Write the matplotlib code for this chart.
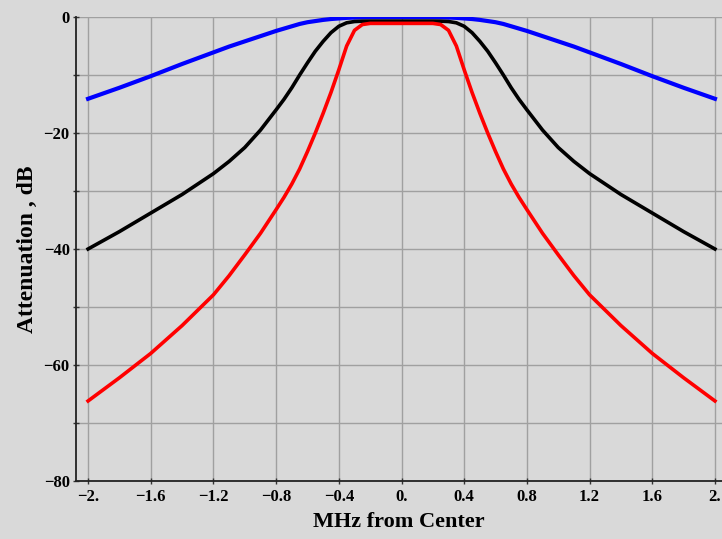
import matplotlib.pyplot as plt

# offsets from center, MHz (left half; right half mirrors it)
half_x = [-2.0, -1.8, -1.6, -1.4, -1.2, -1.1, -1.0, -0.9, -0.8, -0.75, -0.7, -0.65,
          -0.6, -0.55, -0.5, -0.45, -0.4, -0.35, -0.3, -0.25, -0.2, -0.1, 0.0]

# attenuation in dB
blue_half = [-14.1, -12.2, -10.2, -8.1, -6.1, -5.1, -4.2, -3.3, -2.4, -2.0, -1.6, -1.2,
             -0.9, -0.7, -0.5, -0.35, -0.25, -0.15, -0.1, -0.05, 0.0, 0.0, 0.0]
black_half = [-40.0, -37.0, -33.8, -30.6, -27.0, -24.9, -22.5, -19.5, -16.0, -14.2, -12.2, -10.0,
              -7.9, -5.9, -4.2, -2.7, -1.6, -1.0, -0.78, -0.72, -0.7, -0.7, -0.7]
red_half = [-66.2, -62.2, -58.0, -53.2, -47.9, -44.6, -41.0, -37.3, -33.2, -31.1, -28.8, -26.2,
            -23.2, -20.0, -16.6, -13.0, -9.1, -5.0, -2.3, -1.3, -1.1, -1.1, -1.1]

freq = half_x + [-v for v in half_x[-2::-1]]
blue = blue_half + blue_half[-2::-1]
black = black_half + black_half[-2::-1]
red = red_half + red_half[-2::-1]

xticks = [-2.0, -1.6, -1.2, -0.8, -0.4, 0.0, 0.4, 0.8, 1.2, 1.6, 2.0]
xticklabels = ['\u22122.', '\u22121.6', '\u22121.2', '\u22120.8', '\u22120.4', '0.',
               '0.4', '0.8', '1.2', '1.6', '2.']
yticks = [-80, -60, -40, -20, 0]
yticklabels = ['\u221280', '\u221260', '\u221240', '\u221220', '0']

plt.rcParams['font.family'] = ['Liberation Serif', 'DejaVu Serif']

bg = '#d9d9d9'
fig = plt.figure(figsize=(7.22, 5.39), dpi=100, facecolor=bg)
ax = fig.add_axes([76 / 722, 1 - 481 / 539, 646 / 722, 464 / 539])
ax.set_facecolor(bg)

ax.plot(freq, blue, color='#0000ff', lw=3.0, solid_joinstyle='round', zorder=3)
ax.plot(freq, black, color='black', lw=2.6, solid_joinstyle='round', zorder=3)
ax.plot(freq, red, color='#ff0000', lw=2.6, solid_joinstyle='round', zorder=3)

ax.set_xlim(-2.077, 2.045)
ax.set_ylim(-80, 0)

ax.set_xticks(xticks)
ax.set_xticklabels(xticklabels, fontweight='bold', fontsize=12)
ax.set_yticks(yticks)
ax.set_yticklabels(yticklabels, fontweight='bold', fontsize=12)
ax.set_yticks(range(-70, 0, 20), minor=True)
ax.tick_params(axis='both', which='both', direction='inout', length=5, width=1, color='#333333')
ax.tick_params(axis='x', pad=3)
ax.tick_params(axis='y', pad=2)

ax.grid(True, which='both', color='#a0a0a0', lw=1.0)
ax.set_axisbelow(True)

for side in ['top', 'right']:
    ax.spines[side].set_visible(False)
for side in ['left', 'bottom']:
    ax.spines[side].set_color('#222222')
    ax.spines[side].set_linewidth(1.3)

ax.set_xlabel('MHz from Center', fontsize=16, fontweight='bold', labelpad=5)
ax.set_ylabel('Attenuation , dB', fontsize=17, fontweight='bold', labelpad=4)

fig.savefig('out.png', dpi=100, facecolor=bg)
